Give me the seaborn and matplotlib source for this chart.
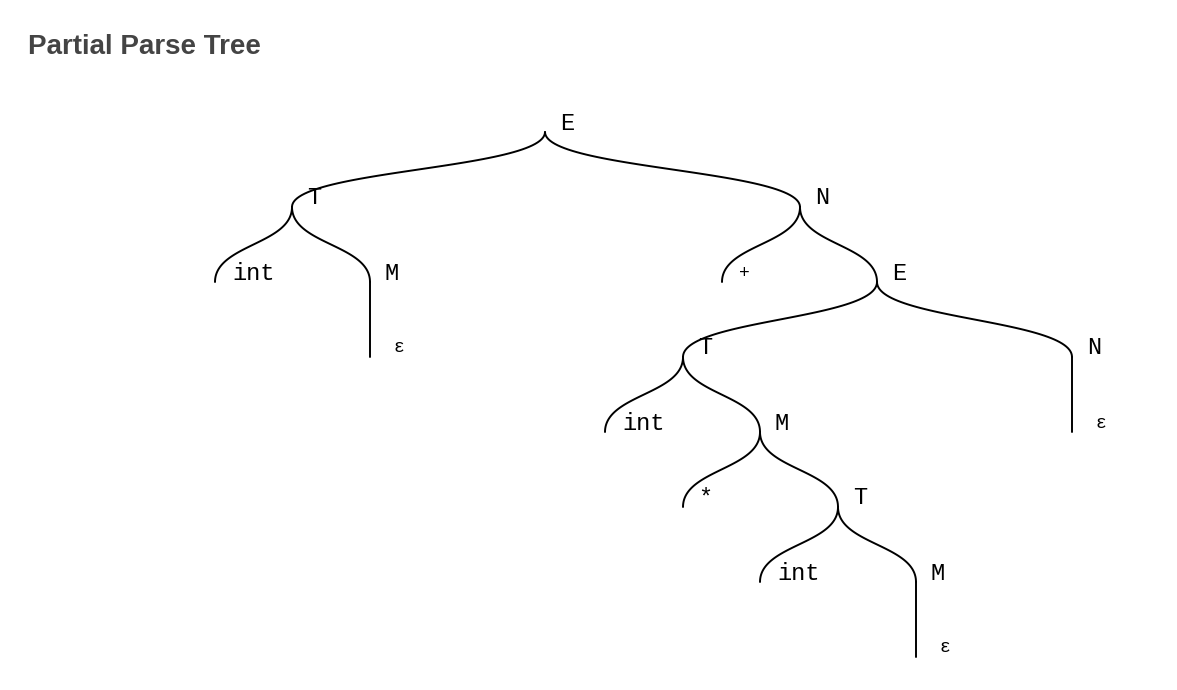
import numpy as np
import matplotlib.pyplot as plt
import seaborn as sns

sns.set_style("white")

# tree nodes: label, x position (px), depth, parent index
labels = ["E", "T", "N", "int", "M", "\u03b5", "+", "E", "T", "N",
          "int", "M", "\u03b5", "*", "T", "int", "M", "\u03b5"]
xs = [545, 292, 800, 215, 370, 370, 722, 877, 683, 1072,
      605, 760, 1072, 683, 838, 760, 916, 916]
depths = [0, 1, 1, 2, 2, 3, 2, 2, 3, 3, 4, 4, 4, 5, 5, 6, 6, 7]
parents = [-1, 0, 0, 1, 1, 4, 2, 2, 7, 7, 8, 8, 9, 11, 11, 14, 14, 16]

y0, dy = 132, 75

fig = plt.figure(figsize=(11.77, 6.9), dpi=100)
ax = fig.add_axes([0, 0, 1, 1])
ax.set_xlim(0, 1177)
ax.set_ylim(690, 0)
ax.axis("off")

t = np.linspace(0, 1, 60)
for i, p in enumerate(parents):
    if p < 0:
        continue
    x1, yA = xs[p], y0 + dy * depths[p]
    x2, yB = xs[i], y0 + dy * depths[i]
    ym = (yA + yB) / 2
    bx = (1 - t) ** 3 * x1 + 3 * (1 - t) ** 2 * t * x1 + 3 * (1 - t) * t ** 2 * x2 + t ** 3 * x2
    by = (1 - t) ** 3 * yA + 3 * (1 - t) ** 2 * t * ym + 3 * (1 - t) * t ** 2 * ym + t ** 3 * yB
    sns.lineplot(x=bx, y=by, ax=ax, color="black", lw=1.4, sort=False, estimator=None)

for lab, x, d in zip(labels, xs, depths):
    y = y0 + dy * d
    off = 17 if lab == "int" else (29 if lab == "\u03b5" else 22)
    fs = 13 if lab in ("\u03b5", "+") else 17
    ax.text(x + off, y - 9, lab, ha="left" if lab == "int" else "center", va="center",
            fontsize=fs, family="Liberation Mono", color="black")

fig.text(28 / 1177, 1 - 47 / 690, "Partial Parse Tree", fontsize=20, fontweight="bold",
         color="#444444", family="Liberation Sans", va="center")

fig.savefig("out.png", dpi=100)
